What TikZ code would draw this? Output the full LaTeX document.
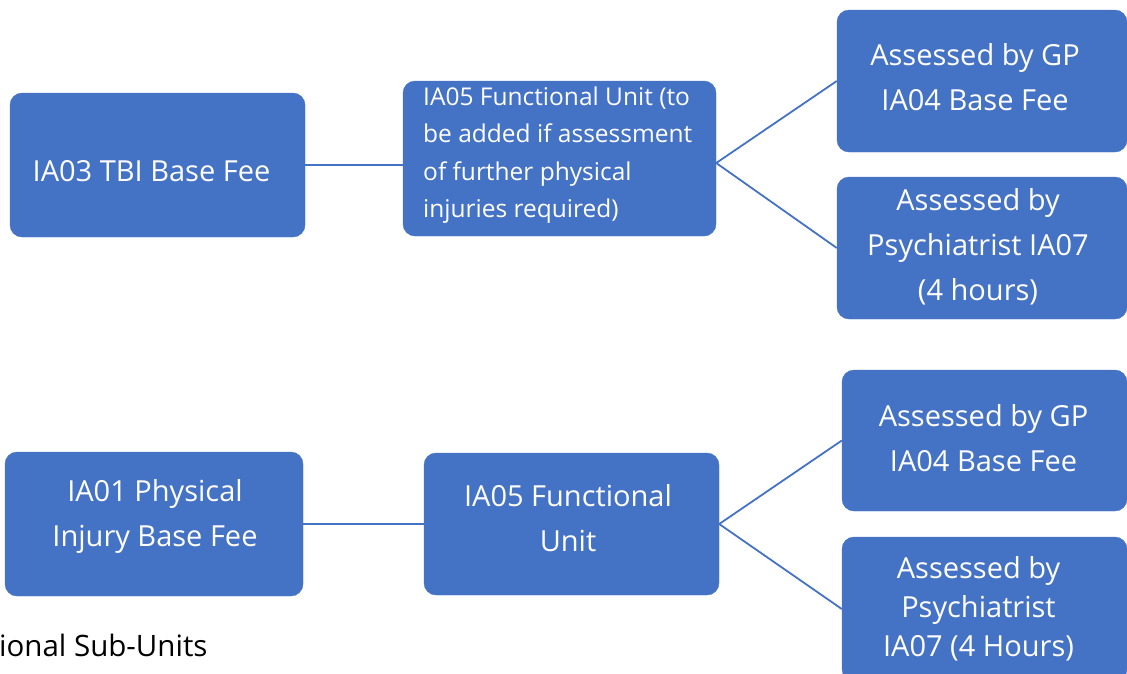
\documentclass[tikz,border=0pt]{standalone}
\usepackage{fontspec}
\setmainfont{Open Sans}
\definecolor{boxblue}{HTML}{4472C4}
\begin{document}
\begin{tikzpicture}[x=1pt,y=-1pt,
  box/.style={draw=boxblue,fill=boxblue,rounded corners=12pt,inner sep=0pt},
  txt/.style={text=white,inner sep=0pt,align=center,font=\fontsize{29}{45}\selectfont},
  link/.style={draw=boxblue,line width=1.8pt}]
\useasboundingbox (0,0) rectangle (1127,673);
\clip (0,0) rectangle (1127,673);
% boxes
\node[box,minimum width=295pt,minimum height=144pt] (a) at (157.5,165) {};
\node[box,minimum width=313pt,minimum height=155pt] (b) at (559.5,158.5) {};
\node[box,minimum width=290pt,minimum height=142pt] (c) at (982,81) {};
\node[box,minimum width=290pt,minimum height=142pt] (d) at (982,248) {};
\node[box,minimum width=298pt,minimum height=144pt] (e) at (154,524) {};
\node[box,minimum width=295pt,minimum height=142pt] (f) at (571.5,524) {};
\node[box,minimum width=285pt,minimum height=141pt] (g) at (984.5,440.5) {};
\node[box,minimum width=285pt,minimum height=144pt] (h) at (984.5,609) {};
% texts
\node[txt] (at) at (151.5,171) {IA03 TBI Base Fee};
\node[txt,anchor=west,align=left,font=\fontsize{24.5}{37.5}\selectfont] (bt) at (423,155)
  {IA05 Functional Unit (to\\be added if assessment\\of further physical\\injuries required)};
\node[txt] (ct) at (975,77.5) {Assessed by GP\\IA04 Base Fee};
\node[txt] (dt) at (978,246.5) {Assessed by\\Psychiatrist IA07\\(4 hours)};
\node[txt] (et) at (155,516.5) {IA01 Physical\\Injury Base Fee};
\node[txt] (ft) at (568,518.5) {IA05 Functional\\Unit};
\node[txt] (gt) at (983.5,438) {Assessed by GP\\IA04 Base Fee};
\node[txt,font=\fontsize{29}{39}\selectfont] (ht) at (978.5,609) {Assessed by\\Psychiatrist\\IA07 (4 Hours)};
\node[anchor=base west,inner sep=0pt,font=\fontsize{29.5}{30}\selectfont] (t) at (-1,656) {ional Sub-Units};
% connectors
\draw[link] (a.east) -- (a.east -| b.west);
\draw[link] (c.west) -- (b.east |- 0,163) -- (d.west);
\draw[link] (e.east) -- (f.west);
\draw[link] (g.west) -- (f.east) -- (h.west);
\end{tikzpicture}
\end{document}
